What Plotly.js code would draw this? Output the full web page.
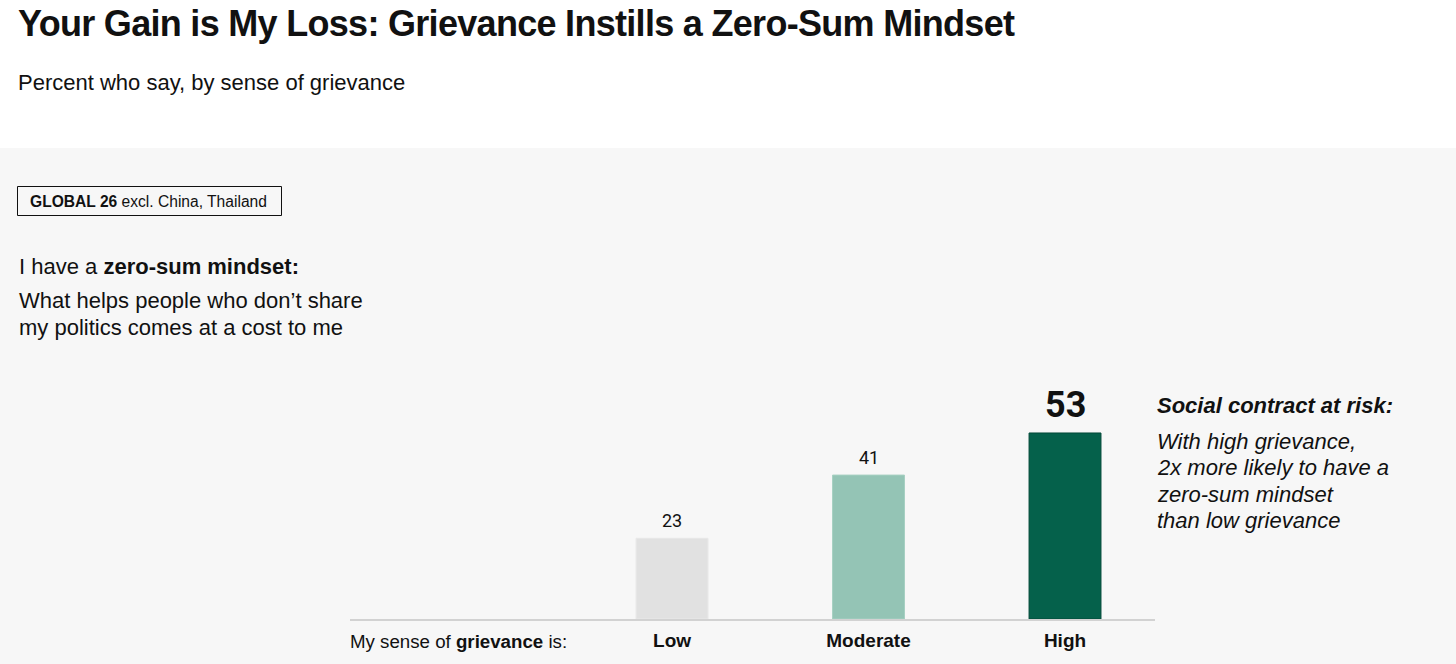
<!DOCTYPE html>
<html>
<head>
<meta charset="utf-8">
<script src="https://cdn.plot.ly/plotly-3.0.1.min.js"></script>
<style>
  html, body { margin: 0; padding: 0; background: #f7f7f7; }
  #chart { width: 1456px; height: 664px; }
  #chart .gtitle { letter-spacing: -0.7px; }
</style>
</head>
<body>
<div id="chart"></div>
<script>
// ---- data ----
const categories = ["Low", "Moderate", "High"];
const values = [23, 41, 53];
const tickLabels = ["<b>Low</b>", "<b>Moderate</b>", "<b>High</b>"];
const highlightIndex = 2;

// ---- texts ----
const titleText = "Your Gain is My Loss: Grievance Instills a Zero-Sum Mindset";
const subtitleText = "Percent who say, by sense of grievance";
const badgeText = "<b>GLOBAL 26</b> excl. China, Thailand";
const questionLines = ["I have a <b>zero-sum mindset:</b>", "What helps people who don\u2019t share", "my politics comes at a cost to me"];
const calloutLines = ["<b><i>Social contract at risk:</i></b>", "<i>With high grievance,</i>", "<i>2x more likely to have a</i>", "<i>zero-sum mindset</i>", "<i>than low grievance</i>"];
const axisLead = "My sense of <b>grievance</b> is:";

// ---- geometry (pixels) ----
const FW = 1456, FH = 664;
const L = 350, R = 1155, T = 380, B = 619;
const PW = R - L, PH = B - T;
const px = x => (x - L) / PW;
const py = y => (B - y) / PH;

const barColors = ["#e1e1e1", "#94c4b5", "#05614b"];
const barLines = ["#e8e8e8", "#a6d0c2", "#044a3a"];

const SANS = "Liberation Sans, Arial, sans-serif";
const NUM = "Roboto, Liberation Sans, sans-serif";

const annotations = [];
function addText(text, x, y, size, opts) {
  annotations.push(Object.assign({
    text: text, xref: "paper", yref: "paper", x: px(x), y: py(y),
    xanchor: "left", yanchor: "middle", showarrow: false,
    font: {family: SANS, size: size, color: "#111111"}
  }, opts || {}));
}

addText(subtitleText, 16, 82, 22);
addText(badgeText, 27.5, 201, 15.6);
addText(questionLines[0], 17, 266, 22);
addText(questionLines[1], 17, 300, 22);
addText(questionLines[2], 17, 327, 22);
addText(calloutLines[0], 1155, 405, 22);
[441, 467, 494, 520].forEach((y, i) => addText(calloutLines[i + 1], 1155, y, 22));
addText(axisLead, 348, 641, 18.7);

// value labels from data
values.forEach((v, i) => {
  const big = i === highlightIndex;
  annotations.push({
    x: categories[i], y: v, xref: "x", yref: "y",
    text: big ? "<b>" + v + "</b>" : String(v),
    showarrow: false, xanchor: "center", yanchor: "middle",
    yshift: big ? 28 : 18,
    font: {family: NUM, size: big ? 36 : 18, color: "#111111"}
  });
});

const shapes = [
  {type: "rect", xref: "paper", yref: "paper", layer: "below",
   x0: px(-5), x1: px(FW + 5), y0: py(148), y1: py(-5),
   fillcolor: "#ffffff", line: {width: 0}},
  {type: "rect", xref: "paper", yref: "paper",
   x0: px(17.5), x1: px(281.5), y0: py(215.5), y1: py(186.5),
   fillcolor: "rgba(0,0,0,0)", line: {color: "#111111", width: 1}}
];

const trace = {
  type: "bar", x: categories, y: values, width: 0.366,
  marker: {color: barColors, line: {color: barLines, width: 1}},
  hoverinfo: "skip"
};

const layout = {
  width: FW, height: FH,
  margin: {l: L, r: FW - R, t: T, b: FH - B, pad: 0},
  paper_bgcolor: "#f7f7f7", plot_bgcolor: "rgba(0,0,0,0)",
  showlegend: false,
  title: {text: "<b>" + titleText + "</b>", xref: "container", yref: "container",
          x: 18 / FW, y: 1 - 23 / FH, xanchor: "left", yanchor: "middle",
          font: {family: SANS, size: 36, color: "#111111"}},
  xaxis: {type: "category", range: [-1.639, 2.458], showline: true, linecolor: "#d2d2d2", linewidth: 2,
          ticks: "", tickvals: categories, ticktext: tickLabels, showgrid: false, zeroline: false,
          tickfont: {family: SANS, size: 19, color: "#111111"}, ticklabelstandoff: 3, fixedrange: true},
  yaxis: {range: [0, PH / 3.51], visible: false, fixedrange: true},
  shapes: shapes,
  annotations: annotations
};

Plotly.newPlot("chart", [trace], layout, {displayModeBar: false, staticPlot: true});
</script>
</body>
</html>
